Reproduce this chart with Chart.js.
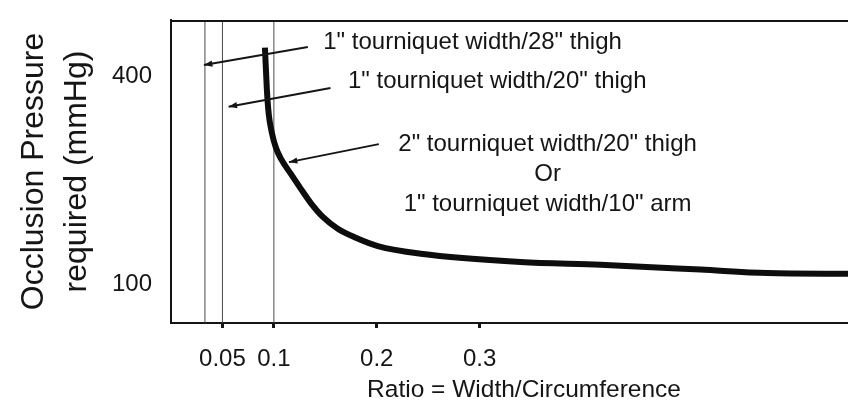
<!DOCTYPE html>
<html lang="en">
<head>
  <meta charset="UTF-8">
  <title>Occlusion Pressure vs Ratio</title>
  <script src="https://cdn.jsdelivr.net/npm/chart.js@4.4.1/dist/chart.umd.min.js"></script>
  <style>
    body { margin: 0; background: #fff; }
    .chart-container { width: 848px; height: 419px; }
  </style>
</head>
<body>
  <div class="chart-container">
    <canvas id="pressureChart"></canvas>
  </div>

  <script>
    // curve: ratio (width/circumference) -> occlusion pressure (mmHg)
    const ratio    = [0.0913, 0.0932, 0.0951, 0.0981, 0.1019, 0.1068, 0.1165, 0.1262, 0.1359, 0.1476, 0.1621, 0.1796, 0.201, 0.2427, 0.3398, 0.4175, 0.5146, 0.5796, 0.658];
    const pressure = [442,    381,    345,    319,    298,    282,    260,    238.5,  218,    198,    181,    168,    156,   145,    133,    129,    122,    117,    116];
    const refLines = [0.033, 0.05, 0.1];
    const xTicks = [0.05, 0.1, 0.2, 0.3];
    const xTickLabels = ['0.05', '0.1', '0.2', '0.3'];
    const yTicks = [100, 400];
    const xRange = [0, 0.658];
    const yRange = [45, 482];

    const noteFont = '24px "Liberation Sans", Arial, sans-serif';
    const ink = '#151515';

    // callouts, placed in data units
    const notes = [
      { lines: ['1" tourniquet width/28" thigh'], x: 0.148, y: 450, align: 'left' },
      { lines: ['1" tourniquet width/20" thigh'], x: 0.172, y: 393, align: 'left' },
      { lines: ['2" tourniquet width/20" thigh', 'Or', '1" tourniquet width/10" arm'], x: 0.366, y: 302, align: 'center' }
    ];
    const arrows = [
      { from: [0.133, 443], to: [0.032, 417] },
      { from: [0.155, 384], to: [0.056, 357] },
      { from: [0.202, 303], to: [0.1146, 277] }
    ];

    const extras = {
      id: 'extras',
      afterDraw(chart) {
        const { ctx, chartArea: a, scales: { x, y } } = chart;
        ctx.save();
        // top edge of the box
        ctx.strokeStyle = ink;
        ctx.lineWidth = 2;
        ctx.beginPath();
        ctx.moveTo(a.left, a.top + 1);
        ctx.lineTo(a.right, a.top + 1);
        ctx.stroke();

        // arrows
        ctx.fillStyle = ink;
        ctx.lineWidth = 2;
        arrows.forEach(ar => {
          const x0 = x.getPixelForValue(ar.from[0]), y0 = y.getPixelForValue(ar.from[1]);
          const x1 = x.getPixelForValue(ar.to[0]),   y1 = y.getPixelForValue(ar.to[1]);
          const ang = Math.atan2(y1 - y0, x1 - x0);
          ctx.beginPath();
          ctx.moveTo(x0, y0);
          ctx.lineTo(x1, y1);
          ctx.stroke();
          ctx.beginPath();
          ctx.moveTo(x1, y1);
          ctx.lineTo(x1 - 9 * Math.cos(ang - 0.35), y1 - 9 * Math.sin(ang - 0.35));
          ctx.lineTo(x1 - 9 * Math.cos(ang + 0.35), y1 - 9 * Math.sin(ang + 0.35));
          ctx.closePath();
          ctx.fill();
        });

        // callout text
        ctx.font = noteFont;
        ctx.textBaseline = 'middle';
        notes.forEach(n => {
          ctx.textAlign = n.align;
          const px = x.getPixelForValue(n.x);
          const py = y.getPixelForValue(n.y);
          n.lines.forEach((t, i) => ctx.fillText(t, px, py + i * 30));
        });

        // x axis title
        ctx.textAlign = 'center';
        ctx.font = '24.5px "Liberation Sans", Arial, sans-serif';
        ctx.fillText('Ratio = Width/Circumference', 524, 390);
        ctx.restore();
      }
    };

    const datasets = [{
      data: ratio.map((r, i) => ({ x: r, y: pressure[i] })),
      borderColor: '#0d0d0d',
      borderWidth: 6,
      pointRadius: 0,
      cubicInterpolationMode: 'monotone'
    }];
    refLines.forEach(v => datasets.push({
      data: [{ x: v, y: yRange[0] }, { x: v, y: yRange[1] }],
      borderColor: '#4a4a4a',
      borderWidth: 1,
      pointRadius: 0
    }));

    new Chart(document.getElementById('pressureChart'), {
      type: 'line',
      data: { datasets },
      options: {
        responsive: true,
        maintainAspectRatio: false,
        animation: false,
        layout: { padding: { top: 20, right: 0, left: 0, bottom: 0 } },
        plugins: { legend: { display: false }, tooltip: { enabled: false } },
        scales: {
          x: {
            type: 'linear',
            min: xRange[0],
            max: xRange[1],
            afterBuildTicks: axis => { axis.ticks = xTicks.map(v => ({ value: v })); },
            afterFit: axis => { axis.height = 96; axis.paddingLeft = 0; axis.paddingRight = 0; },
            ticks: {
              color: ink,
              padding: 17,
              maxRotation: 0,
              autoSkip: false,
              font: { family: '"Liberation Sans", Arial, sans-serif', size: 24 },
              callback: v => xTickLabels[xTicks.indexOf(v)] ?? ''
            },
            grid: { drawOnChartArea: false, tickLength: 5, tickWidth: 3, tickColor: ink },
            border: { color: ink, width: 2 }
          },
          y: {
            min: yRange[0],
            max: yRange[1],
            afterBuildTicks: axis => { axis.ticks = yTicks.map(v => ({ value: v })); },
            afterFit: axis => { axis.width = 171; axis.paddingTop = 0; axis.paddingBottom = 0; },
            ticks: {
              color: ink,
              padding: 19,
              font: { family: '"Liberation Sans", Arial, sans-serif', size: 24 }
            },
            grid: { display: false, drawTicks: false },
            border: { color: ink, width: 2 },
            title: {
              display: true,
              text: ['Occlusion Pressure', 'required (mmHg)'],
              color: ink,
              padding: { top: 13, bottom: 0 },
              font: { family: '"Liberation Sans", Arial, sans-serif', size: 32, lineHeight: 1.34 }
            }
          }
        }
      },
      plugins: [extras]
    });
  </script>
</body>
</html>
